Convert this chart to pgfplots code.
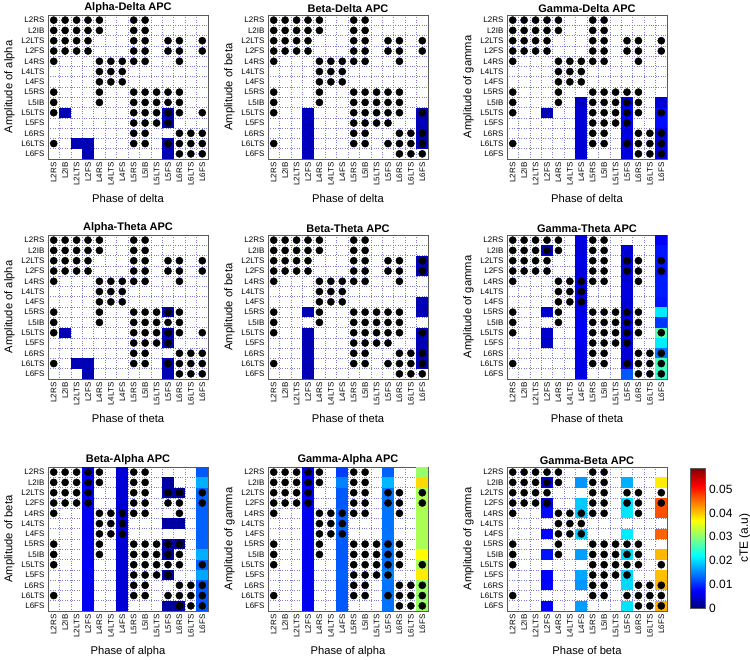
\documentclass[border=0pt]{standalone}
\usepackage{fontspec}
\setmainfont{Liberation Sans}
\usepackage{pgfplots}
\usepackage{pgfplotstable}
\pgfplotsset{compat=1.18}

\definecolor{gridblue}{RGB}{125,125,215}
\definecolor{framegray}{RGB}{90,90,90}

% one cell of the 14x14 grid (axis is 160pt x 144pt)
\pgfdeclareplotmark{cell}{%
  \pgfpathrectangle{\pgfpoint{-5.8pt}{-5.2pt}}{\pgfpoint{11.6pt}{10.4pt}}%
  \pgfusepathqfill}

% significant pairs (same in every panel): x = phase cell, y = amplitude cell
\pgfplotstableread{
x y
0 0
1 0
2 0
3 0
4 0
7 0
8 0
0 1
1 1
2 1
3 1
4 1
7 1
8 1
0 2
1 2
2 2
3 2
7 2
8 2
10 2
11 2
13 2
0 3
1 3
2 3
3 3
7 3
8 3
10 3
11 3
13 3
0 4
4 4
5 4
6 4
7 4
8 4
11 4
4 5
5 5
6 5
4 6
5 6
6 6
0 7
4 7
7 7
8 7
9 7
10 7
11 7
0 8
4 8
7 8
8 8
9 8
10 8
11 8
0 9
7 9
8 9
9 9
10 9
11 9
13 9
7 10
8 10
9 10
10 10
7 11
8 11
11 11
12 11
13 11
0 12
7 12
8 12
10 12
11 12
12 12
13 12
11 13
12 13
13 13
}\sigpts

% cTE values of the coloured cells: x y c
\pgfplotstableread{
x y c
1 9 0.003
10 9 0.003
10 10 0.003
2 12 0.003
3 12 0.003
3 13 0.003
10 12 0.003
10 13 0.003
}\cellsA

\pgfplotstableread{
x y c
3 9 0.0035
3 10 0.0035
3 11 0.0035
3 12 0.0035
3 13 0.0035
13 9 0.003
13 10 0.0032
13 11 0.003
13 12 0.0032
}\cellsB

\pgfplotstableread{
x y c
3 9 0.003
6 8 0.004
6 9 0.005
6 10 0.005
6 11 0.005
6 12 0.005
6 13 0.005
10 8 0.0055
10 9 0.007
10 10 0.007
10 11 0.0055
10 12 0.0055
10 13 0.0055
13 8 0.005
13 9 0.008
13 10 0.008
13 11 0.0055
13 12 0.0055
13 13 0.0055
}\cellsC

\pgfplotstableread{
x y c
10 7 0.003
1 9 0.003
10 9 0.003
10 10 0.003
2 12 0.003
3 12 0.003
3 13 0.003
10 12 0.003
10 13 0.003
}\cellsD

\pgfplotstableread{
x y c
13 2 0.003
13 3 0.003
3 7 0.003
3 9 0.003
3 10 0.003
3 11 0.003
3 12 0.003
3 13 0.003
13 6 0.003
13 7 0.003
13 9 0.003
13 10 0.003
13 11 0.003
13 12 0.003
}\cellsE

\pgfplotstableread{
x y c
6 0 0.0055
6 1 0.0055
6 2 0.006
6 3 0.0055
6 4 0.006
6 5 0.0055
6 6 0.006
6 7 0.006
6 8 0.0065
6 9 0.007
6 10 0.0065
6 11 0.006
6 12 0.006
6 13 0.006
3 1 0.004
3 7 0.0045
3 9 0.0045
3 10 0.0045
10 1 0.005
10 2 0.005
10 3 0.0055
10 4 0.005
10 5 0.0055
10 6 0.005
10 7 0.0055
10 8 0.006
10 9 0.0055
10 10 0.0055
10 11 0.005
10 12 0.0055
10 13 0.0125
13 0 0.007
13 1 0.0085
13 2 0.0085
13 3 0.0085
13 4 0.009
13 5 0.009
13 6 0.0085
13 7 0.021
13 8 0.0105
13 9 0.027
13 10 0.021
13 11 0.014
13 12 0.026
13 13 0.025
}\cellsF

\pgfplotstableread{
x y c
3 0 0.0065
3 1 0.0065
3 2 0.0065
3 3 0.0065
3 4 0.0065
3 5 0.0065
3 6 0.0065
3 7 0.0065
3 8 0.0065
3 9 0.007
3 10 0.0065
3 11 0.0065
3 12 0.0065
3 13 0.0065
6 0 0.005
6 1 0.005
6 2 0.005
6 3 0.005
6 4 0.005
6 5 0.005
6 6 0.005
6 7 0.005
6 8 0.005
6 9 0.005
6 10 0.005
6 11 0.005
6 12 0.005
6 13 0.005
10 1 0.002
10 2 0.002
11 2 0.002
10 5 0.002
11 5 0.002
10 7 0.002
11 7 0.002
10 8 0.002
10 10 0.002
10 13 0.002
11 13 0.002
13 0 0.0125
13 1 0.0175
13 2 0.013
13 3 0.013
13 4 0.013
13 5 0.013
13 6 0.013
13 7 0.013
13 8 0.0175
13 9 0.013
13 10 0.017
13 11 0.0125
13 12 0.0125
13 13 0.0125
}\cellsG

\pgfplotstableread{
x y c
3 0 0.0065
3 1 0.0065
3 2 0.0065
3 3 0.0065
3 4 0.0065
3 5 0.0065
3 6 0.0065
3 7 0.0065
3 8 0.0065
3 9 0.0065
3 10 0.0065
3 11 0.0065
3 12 0.0065
3 13 0.0065
6 0 0.011
6 1 0.015
6 2 0.0125
6 3 0.0125
6 4 0.013
6 5 0.013
6 6 0.013
6 7 0.0125
6 8 0.0125
6 9 0.0125
6 10 0.013
6 11 0.0125
6 12 0.0125
6 13 0.0125
10 0 0.013
10 1 0.018
10 2 0.014
10 3 0.014
10 4 0.014
10 5 0.014
10 6 0.014
10 7 0.014
10 8 0.014
10 9 0.014
10 10 0.015
10 11 0.014
10 12 0.014
10 13 0.014
13 0 0.031
13 1 0.039
13 2 0.032
13 3 0.032
13 4 0.032
13 5 0.032
13 6 0.032
13 7 0.032
13 8 0.037
13 9 0.032
13 10 0.038
13 11 0.031
13 12 0.031
13 13 0.031
}\cellsH

\pgfplotstableread{
x y c
3 1 0.005
3 3 0.0055
3 4 0.008
3 6 0.0075
3 8 0.0085
3 10 0.0075
3 11 0.0075
3 13 0.007
6 1 0.016
6 3 0.019
6 4 0.019
6 6 0.0195
6 8 0.0165
6 10 0.017
6 11 0.016
6 13 0.0165
10 1 0.0175
10 3 0.0205
10 4 0.0207
10 6 0.021
10 8 0.02
10 10 0.02
10 11 0.02
10 13 0.0205
13 1 0.038
13 3 0.047
13 4 0.047
13 6 0.046
13 8 0.041
13 10 0.0405
13 11 0.041
13 13 0.0415
}\cellsI

\pgfplotsset{
  apc/.style={
    scale only axis, width=160pt, height=144pt, anchor=north west,
    xmin=-0.5, xmax=13.5, ymin=-0.5, ymax=13.5, y dir=reverse,
    xtick={0,...,13}, ytick={0,...,13},
    xticklabels={L2RS,L2IB,L2LTS,L2FS,L4RS,L4LTS,L4FS,L5RS,L5IB,L5LTS,L5FS,L6RS,L6LTS,L6FS},
    yticklabels={L2RS,L2IB,L2LTS,L2FS,L4RS,L4LTS,L4FS,L5RS,L5IB,L5LTS,L5FS,L6RS,L6LTS,L6FS},
    xticklabel style={rotate=90, anchor=east, font=\fontsize{8}{9}\selectfont},
    yticklabel style={font=\fontsize{8}{9}\selectfont},
    minor xtick={0.5,1.5,...,12.5}, minor ytick={0.5,1.5,...,12.5},
    xminorgrids, yminorgrids,
    minor grid style={gridblue, dotted, line width=0.6pt},
    major tick length=0pt, minor tick length=0pt,
    axis line style={framegray, line width=0.6pt},
    colormap/jet, point meta min=0, point meta max=0.059,
    axis on top,
    every axis title shift=0pt,
    title style={font=\bfseries\fontsize{11}{13}\selectfont, yshift=-1pt},
    label style={font=\fontsize{11.2}{13}\selectfont},
    xlabel style={yshift=-2pt},
  },
  cellplot/.style={scatter, only marks, mark=cell, point meta=\thisrow{c},
    scatter/use mapped color={draw=mapped color, fill=mapped color}},
  sigplot/.style={only marks, mark=*, mark size=3.6pt, black, point meta=none,
    mark options={draw=black, fill=black}},
}

\begin{document}
\begin{tikzpicture}
\useasboundingbox (0,0) rectangle (750pt,659pt);

% row 1
\begin{axis}[apc, at={(48pt,644pt)}, title={Alpha-Delta APC},
  xlabel={Phase of delta}, ylabel={Amplitude of alpha}]
\addplot[cellplot] table[x=x, y=y] {\cellsA};
\addplot[sigplot] table[x=x, y=y] {\sigpts};
\end{axis}
\begin{axis}[apc, at={(268pt,644pt)}, title={Beta-Delta APC},
  xlabel={Phase of delta}, ylabel={Amplitude of beta}]
\addplot[cellplot] table[x=x, y=y] {\cellsB};
\addplot[sigplot] table[x=x, y=y] {\sigpts};
\end{axis}
\begin{axis}[apc, at={(507pt,644pt)}, title={Gamma-Delta APC},
  xlabel={Phase of delta}, ylabel={Amplitude of gamma}]
\addplot[cellplot] table[x=x, y=y] {\cellsC};
\addplot[sigplot] table[x=x, y=y] {\sigpts};
\end{axis}

% row 2
\begin{axis}[apc, at={(48pt,424pt)}, title={Alpha-Theta APC},
  xlabel={Phase of theta}, ylabel={Amplitude of alpha}]
\addplot[cellplot] table[x=x, y=y] {\cellsD};
\addplot[sigplot] table[x=x, y=y] {\sigpts};
\end{axis}
\begin{axis}[apc, at={(268pt,424pt)}, title={Beta-Theta APC},
  xlabel={Phase of theta}, ylabel={Amplitude of beta}]
\addplot[cellplot] table[x=x, y=y] {\cellsE};
\addplot[sigplot] table[x=x, y=y] {\sigpts};
\end{axis}
\begin{axis}[apc, at={(507pt,424pt)}, title={Gamma-Theta APC},
  xlabel={Phase of theta}, ylabel={Amplitude of gamma}]
\addplot[cellplot] table[x=x, y=y] {\cellsF};
\addplot[sigplot] table[x=x, y=y] {\sigpts};
\end{axis}

% row 3
\begin{axis}[apc, at={(48pt,192pt)}, title={Beta-Alpha APC},
  xlabel={Phase of alpha}, ylabel={Amplitude of beta}]
\addplot[cellplot] table[x=x, y=y] {\cellsG};
\addplot[sigplot] table[x=x, y=y] {\sigpts};
\end{axis}
\begin{axis}[apc, at={(268pt,192pt)}, title={Gamma-Alpha APC},
  xlabel={Phase of alpha}, ylabel={Amplitude of gamma}]
\addplot[cellplot] table[x=x, y=y] {\cellsH};
\addplot[sigplot] table[x=x, y=y] {\sigpts};
\end{axis}
\begin{axis}[apc, at={(507pt,192pt)}, title={Gamma-Beta APC},
  xlabel={Phase of beta}, ylabel={Amplitude of gamma},
  colorbar,
  colorbar style={
    scale only axis, width=15pt, height=140pt,
    at={(parent axis.north east)}, anchor=north west, xshift=15pt, yshift=-1pt,
    ytick={0,0.01,0.02,0.03,0.04,0.05}, scaled y ticks=false,
    yticklabel style={font=\fontsize{12}{14}\selectfont,
      /pgf/number format/fixed, /pgf/number format/precision=2,
      /pgf/number format/assume math mode=true},
    major tick length=0pt,
    axis line style={framegray, line width=0.6pt},
    ylabel={cTE (a.u)}, ylabel style={font=\fontsize{12}{14}\selectfont},
  }]
\addplot[cellplot] table[x=x, y=y] {\cellsI};
\addplot[sigplot] table[x=x, y=y] {\sigpts};
\end{axis}
\end{tikzpicture}
\end{document}
